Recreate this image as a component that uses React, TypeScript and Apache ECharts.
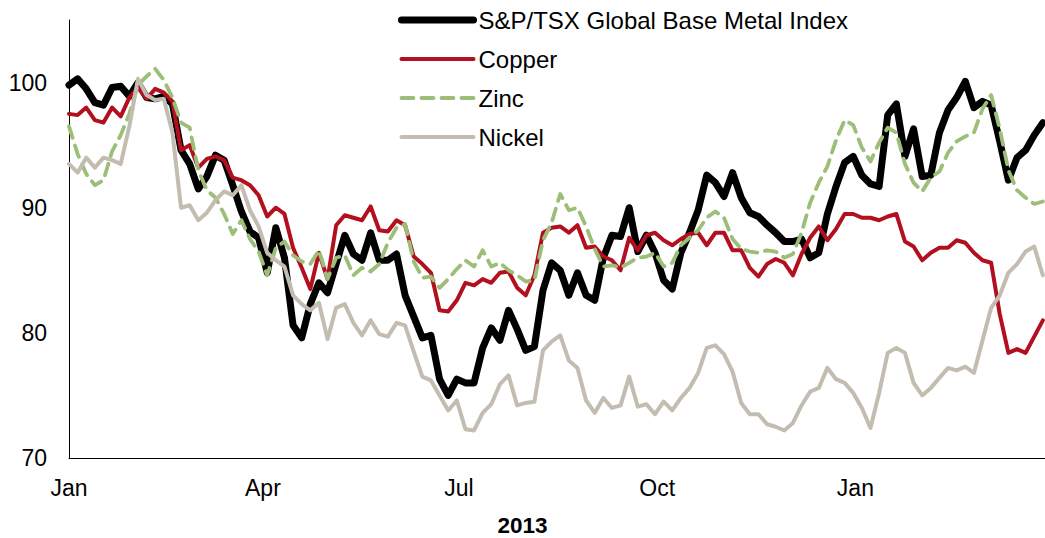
import React, { useEffect, useRef } from "react";
import * as echarts from "echarts";

// Samples every 4 calendar days from 1 Jan 2013 (index level, rebased)
const START_DATE = Date.UTC(2013, 0, 1);
const STEP_DAYS = 4;
const DAY_MS = 86400000;

const baseMetalIndex = [
  99.8, 100.3, 99.5, 98.4, 98.2, 99.6, 99.7, 98.9, 100.0, 98.8,
  98.7, 98.9, 98.3, 94.6, 93.5, 91.5, 92.5, 94.2, 93.8, 91.8,
  89.7, 88.1, 87.6, 84.8, 88.4, 86.0, 80.6, 79.6, 82.3, 84.0,
  83.2, 85.5, 87.8, 86.3, 85.8, 88.0, 85.8, 85.8, 86.3, 83.0,
  81.3, 79.6, 79.8, 76.3, 75.0, 76.3, 76.0, 76.0, 78.8, 80.4,
  79.4, 81.8, 80.3, 78.6, 78.9, 83.4, 85.6, 85.0, 83.0, 84.8,
  83.0, 82.6, 86.0, 87.8, 87.7, 90.0, 86.5, 87.8, 86.4, 84.2,
  83.5, 86.4, 88.0, 89.8, 92.6, 92.0, 90.9, 92.8, 90.8, 89.6,
  89.3, 88.6, 88.0, 87.3, 87.3, 87.5, 86.0, 86.4, 89.5, 91.7,
  93.6, 94.1, 92.6, 91.9, 91.7, 97.4, 98.3, 94.1, 96.3, 92.5,
  92.6, 96.0, 97.8, 98.8, 100.1, 98.0, 98.5, 98.2, 95.3, 92.2,
  94.0, 94.6, 95.8, 96.8,
];

const copper = [
  97.5, 97.4, 98.0, 97.0, 96.8, 98.0, 97.3, 98.8, 99.6, 98.7,
  99.5, 99.2, 98.5, 94.6, 95.0, 93.2, 93.9, 94.1, 93.8, 92.4,
  92.2, 91.8, 91.0, 89.3, 90.0, 89.5, 86.8, 85.2, 83.5, 86.4,
  84.3, 88.6, 89.4, 89.2, 89.0, 90.1, 88.2, 88.1, 89.0, 88.6,
  86.1, 85.5, 84.8, 81.8, 81.7, 82.6, 84.0, 83.8, 84.3, 84.0,
  84.8, 84.9, 83.6, 83.0, 84.6, 88.0, 88.4, 88.5, 88.0, 88.6,
  86.8, 86.9, 86.1, 85.8, 85.0, 87.6, 86.6, 87.8, 88.0, 87.4,
  87.0, 87.5, 87.9, 88.0, 87.0, 88.0, 88.0, 86.6, 86.6, 85.2,
  84.5, 85.5, 85.9, 85.6, 84.6, 86.3, 87.6, 88.5, 87.4, 88.3,
  89.5, 89.5, 89.2, 89.2, 89.0, 89.3, 89.5, 87.3, 86.9, 85.8,
  86.4, 86.8, 86.8, 87.4, 87.2, 86.4, 85.8, 85.6, 81.5, 78.4,
  78.7, 78.4, 79.7, 81.0,
];

const zinc = [
  96.5, 94.3, 92.7, 91.8, 92.2, 94.5, 95.8, 97.5, 99.8, 100.5,
  101.1, 100.2, 98.8, 96.8, 96.4, 93.0, 91.4, 90.8, 89.5, 87.9,
  89.0, 87.5, 86.5, 84.6, 86.8, 87.3, 86.2, 85.7, 85.5, 86.6,
  84.3, 86.0, 86.2, 84.6, 85.2, 84.9, 85.5, 87.2, 88.4, 88.7,
  85.7, 84.4, 84.5, 83.6, 84.3, 85.1, 85.8, 85.3, 86.6, 85.3,
  85.6, 85.0, 84.6, 84.1, 84.2, 87.4, 88.8, 91.1, 89.8, 90.0,
  88.5, 86.7, 85.3, 85.4, 85.2, 85.6, 86.0, 86.1, 86.4, 85.3,
  85.6, 87.0, 87.6, 88.2, 89.2, 89.7, 89.2, 87.5, 86.7, 86.5,
  86.4, 86.6, 86.5, 86.0, 86.3, 88.0, 90.4, 92.0, 93.3, 95.4,
  97.0, 96.6, 94.8, 93.7, 95.2, 96.4, 96.0, 93.5, 92.0, 91.3,
  92.4, 92.9, 94.4, 95.3, 95.7, 96.0, 97.9, 99.0, 96.3, 93.0,
  91.4, 90.8, 90.3, 90.5,
];

const nickel = [
  93.5, 92.8, 94.0, 93.2, 94.0, 93.8, 93.5, 96.5, 100.3, 99.0,
  98.6, 98.7, 96.0, 90.0, 90.2, 89.0, 89.6, 90.6, 91.3, 91.0,
  91.8, 89.8, 88.5, 86.4, 85.8, 85.3, 83.0, 82.3, 81.8, 82.4,
  79.5, 82.0, 82.3, 80.8, 79.8, 81.0, 79.9, 79.7, 80.8, 80.6,
  78.5, 76.5, 76.2, 75.0, 73.8, 74.6, 72.3, 72.2, 73.6, 74.3,
  75.9, 76.6, 74.2, 74.4, 74.5, 78.6, 79.3, 79.8, 77.8, 77.2,
  74.6, 73.6, 74.8, 74.0, 74.2, 76.5, 74.1, 74.3, 73.5, 74.5,
  73.8, 74.8, 75.6, 76.8, 78.8, 79.0, 78.3, 76.9, 74.4, 73.5,
  73.5, 72.7, 72.5, 72.2, 72.8, 74.2, 75.3, 75.6, 77.2, 76.3,
  76.0, 75.2, 74.0, 72.4, 75.2, 78.4, 78.8, 78.4, 76.0, 75.0,
  75.6, 76.4, 77.2, 77.0, 77.3, 76.8, 79.4, 82.0, 83.0, 84.8,
  85.5, 86.5, 86.9, 84.6,
];

const seriesNames = [
  "S&P/TSX Global Base Metal Index",
  "Copper",
  "Zinc",
  "Nickel",
];

const tickDates = ["2013-01-01", "2013-04-01", "2013-07-01", "2013-10-01", "2014-01-01"];
const tickLabels = ["Jan", "Apr", "Jul", "Oct", "Jan"];
const yearLabel = "2013";

const FONT = "'Liberation Sans', Arial, Helvetica, sans-serif";

function toPoints(values: number[]) {
  return values.map((v, i) => [START_DATE + i * STEP_DAYS * DAY_MS, v]);
}

export default function App() {
  const ref = useRef<HTMLDivElement>(null);

  useEffect(() => {
    if (!ref.current) return;
    const chart = echarts.init(ref.current, null, { renderer: "svg" });

    const tickTimes = tickDates.map((d) => Date.parse(d + "T00:00:00Z"));

    chart.setOption({
      animation: false,
      backgroundColor: "#ffffff",
      title: {
        text: yearLabel,
        left: "center",
        top: 514,
        padding: 0,
        textStyle: {
          fontFamily: FONT,
          fontSize: 22.5,
          lineHeight: 22,
          fontWeight: "bold",
          color: "#000",
        },
      },
      legend: {
        orient: "vertical",
        left: 398,
        top: 8,
        padding: 0,
        itemWidth: 72,
        itemHeight: 20,
        itemGap: 15,
        // line-only legend keys: the marker dot is made invisible
        itemStyle: { opacity: 0 },
        lineStyle: { width: "inherit", cap: "round" },
        textStyle: { fontFamily: FONT, fontSize: 24, color: "#000" },
        data: seriesNames,
      },
      grid: { left: 69, right: 0, top: 20, bottom: 80, containLabel: false },
      xAxis: {
        // timestamps (ms, UTC) on a numeric axis
        type: "value",
        min: Date.UTC(2013, 0, 1),
        max: Date.UTC(2014, 2, 30),
        axisLine: { show: true, onZero: false, lineStyle: { color: "#000", width: 1 } },
        axisTick: { show: false },
        splitLine: { show: false },
        axisLabel: {
          customValues: tickTimes,
          formatter: (val: number) => {
            const idx = tickTimes.indexOf(val);
            return idx >= 0 ? tickLabels[idx] : "";
          },
          margin: 18,
          fontFamily: FONT,
          fontSize: 23,
          color: "#000",
        },
      },
      yAxis: {
        type: "value",
        min: 70,
        max: 105,
        interval: 10,
        axisLine: { show: true, lineStyle: { color: "#000", width: 1 } },
        axisTick: { show: false },
        splitLine: { show: false },
        axisLabel: {
          showMaxLabel: false,
          margin: 22,
          fontFamily: FONT,
          fontSize: 23,
          color: "#000",
        },
      },
      series: [
        {
          name: seriesNames[0],
          type: "line",
          data: toPoints(baseMetalIndex),
          symbol: "none",
          z: 1,
          lineStyle: { color: "#000000", width: 7, cap: "round", join: "round" },
          itemStyle: { color: "#000000" },
        },
        {
          name: seriesNames[1],
          type: "line",
          data: toPoints(copper),
          symbol: "none",
          z: 2,
          lineStyle: { color: "#B2101F", width: 4, cap: "round", join: "round" },
          itemStyle: { color: "#B2101F" },
        },
        {
          name: seriesNames[2],
          type: "line",
          data: toPoints(zinc),
          symbol: "none",
          z: 3,
          lineStyle: { color: "#9DBE78", width: 3.8, type: [12, 8], cap: "round", join: "round" },
          itemStyle: { color: "#9DBE78" },
        },
        {
          name: seriesNames[3],
          type: "line",
          data: toPoints(nickel),
          symbol: "none",
          z: 4,
          lineStyle: { color: "#C3BCB1", width: 4, cap: "round", join: "round" },
          itemStyle: { color: "#C3BCB1" },
        },
      ],
    });

    return () => chart.dispose();
  }, []);

  return (
    <div
      ref={ref}
      style={{ position: "absolute", left: 0, top: 0, width: 1045, height: 538 }}
    />
  );
}
